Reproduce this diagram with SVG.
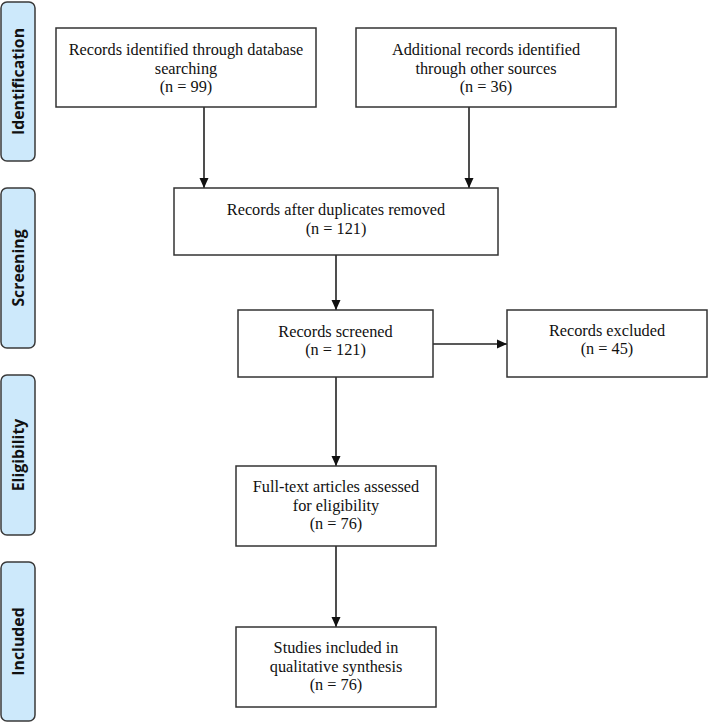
<svg xmlns="http://www.w3.org/2000/svg" width="709" height="722" viewBox="0 0 709 722">
<style>
.phase{fill:#cde9fb;stroke:#3a3a3a;stroke-width:1.5}
.plab{font-family:"Open Sans","Liberation Sans",sans-serif;font-weight:bold;font-size:15.8px;fill:#111;text-anchor:middle}
.box{fill:#fff;stroke:#333;stroke-width:1.5}
.t{font-family:"Liberation Serif","Times New Roman",serif;font-size:16.3px;fill:#111;text-anchor:middle}
.c{stroke:#222;stroke-width:1.6;fill:none;marker-end:url(#ah)}
</style>
<defs>
<marker id="ah" viewBox="0 0 10 10" refX="10" refY="5" markerWidth="10" markerHeight="10" markerUnits="userSpaceOnUse" orient="auto">
<path d="M0,0.5 L10,5 L0,9.5 z" fill="#111"/>
</marker>
</defs>
<rect width="709" height="722" fill="#fff"/>
<g id="phase-identification"><rect class="phase" x="1" y="2" width="34" height="159" rx="6"/><text class="plab" transform="translate(23.5,81.5) rotate(-90)">Identification</text></g>
<g id="phase-screening"><rect class="phase" x="1" y="188" width="34" height="160" rx="6"/><text class="plab" transform="translate(23.5,268) rotate(-90)">Screening</text></g>
<g id="phase-eligibility"><rect class="phase" x="1" y="375" width="34" height="160" rx="6"/><text class="plab" transform="translate(23.5,455) rotate(-90)">Eligibility</text></g>
<g id="phase-included"><rect class="phase" x="1" y="562" width="34" height="159" rx="6"/><text class="plab" transform="translate(23.5,641.5) rotate(-90)">Included</text></g>
<g id="connectors">
<line class="c" x1="204" y1="107" x2="204" y2="188"/>
<line class="c" x1="469" y1="107" x2="469" y2="188"/>
<line class="c" x1="336" y1="255" x2="336" y2="310"/>
<line class="c" x1="433" y1="344" x2="507" y2="344"/>
<line class="c" x1="336" y1="377" x2="336" y2="466"/>
<line class="c" x1="336" y1="546" x2="336" y2="627"/>
</g>
<g id="n-db"><rect class="box" x="56" y="28" width="260" height="79"/><text class="t" x="186" y="55">Records identified through database</text><text class="t" x="186" y="73.5">searching</text><text class="t" x="186" y="92">(n = 99)</text></g>
<g id="n-other"><rect class="box" x="356" y="28" width="260" height="79"/><text class="t" x="486" y="55">Additional records identified</text><text class="t" x="486" y="73.5">through other sources</text><text class="t" x="486" y="92">(n = 36)</text></g>
<g id="n-dup"><rect class="box" x="174" y="188" width="324" height="67"/><text class="t" x="336" y="215">Records after duplicates removed</text><text class="t" x="336" y="234">(n = 121)</text></g>
<g id="n-screened"><rect class="box" x="238" y="310" width="195" height="67"/><text class="t" x="335.5" y="337">Records screened</text><text class="t" x="335.5" y="355">(n = 121)</text></g>
<g id="n-excluded"><rect class="box" x="507" y="310" width="200" height="67"/><text class="t" x="607" y="336">Records excluded</text><text class="t" x="607" y="354">(n = 45)</text></g>
<g id="n-full"><rect class="box" x="236" y="466" width="200" height="80"/><text class="t" x="336" y="492">Full-text articles assessed</text><text class="t" x="336" y="510.5">for eligibility</text><text class="t" x="336" y="529">(n = 76)</text></g>
<g id="n-included"><rect class="box" x="236" y="627" width="200" height="80"/><text class="t" x="336" y="653">Studies included in</text><text class="t" x="336" y="671.5">qualitative synthesis</text><text class="t" x="336" y="690">(n = 76)</text></g>
</svg>
